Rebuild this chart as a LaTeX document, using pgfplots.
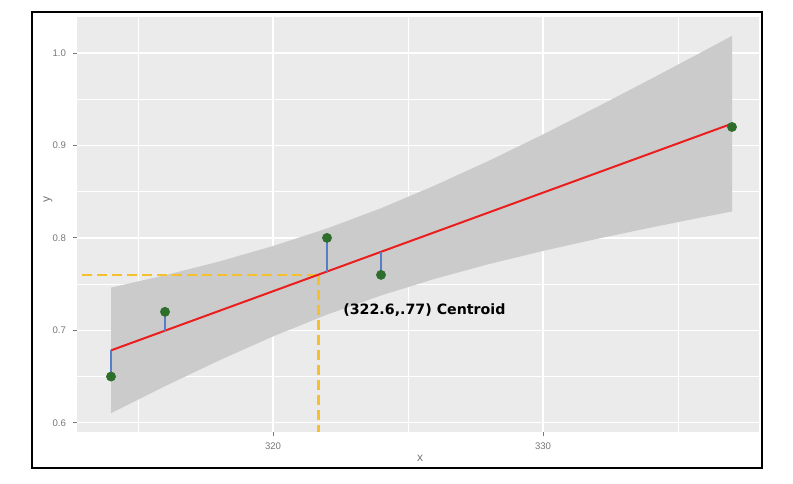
\documentclass[border=0pt]{standalone}
\usepackage{pgfplots}
\pgfplotsset{compat=1.18}
\usepackage{fontspec}
\setmainfont{Liberation Sans}
\newfontfamily\lblfont{DejaVu Sans}
\definecolor{panel}{RGB}{235,235,235}
\definecolor{band}{RGB}{203,203,203}
\definecolor{dkgreen}{RGB}{45,110,45}
\definecolor{resid}{RGB}{85,125,200}
\definecolor{fitred}{RGB}{235,30,30}
\definecolor{cgold}{RGB}{245,192,45}
\definecolor{ticktext}{RGB}{120,120,120}
\begin{document}
\begin{tikzpicture}[x=0.5pt,y=0.5pt]
\fill[white] (0,0) rectangle (793,483);
\begin{axis}[
  at={(38.5pt,25.5pt)}, anchor=south west,
  scale only axis, width=341pt, height=207.5pt,
  xmin=312.74, xmax=338.0, ymin=0.590, ymax=1.039,
  axis background/.style={fill=panel},
  axis line style={draw=none},
  xtick={320,330}, xticklabels={320,330},
  minor xtick={315,325,335},
  ytick={0.6,0.7,0.8,0.9,1.0}, yticklabels={0.6,0.7,0.8,0.9,1.0},
  minor ytick={0.65,0.75,0.85,0.95},
  grid=both,
  major grid style={white, line width=0.7pt},
  minor grid style={white, line width=0.35pt},
  tick align=outside, major tick length=2pt, minor tick length=0pt,
  xtick pos=bottom, ytick pos=left,
  tick style={ticktext, line width=0.5pt},
  ticklabel style={font=\fontsize{4.8}{5.5}\selectfont, text=ticktext},
  xticklabel style={yshift=0.3pt},
  clip=false,
]
% confidence band
\addplot[fill=band, draw=none] coordinates {
  (314,0.7462) (316,0.7596) (318,0.7744) (320,0.7912) (322,0.8102)
  (324,0.8321) (326,0.8568) (328,0.8835) (330,0.9119) (332,0.9416)
  (334,0.9720) (336,1.0029) (337,1.0186)
  (337,0.8286) (336,0.8229) (334,0.8112) (332,0.7990) (330,0.7859)
  (328,0.7717) (326,0.7558) (324,0.7377) (322,0.7170) (320,0.6934)
  (318,0.6674) (316,0.6396) (314,0.6104)
} -- cycle;
% centroid guides
\addplot[cgold, line width=1.2pt, dash pattern=on 5pt off 2.5pt] coordinates {(312.93,0.76) (321.68,0.76)};
\addplot[cgold, line width=1.2pt, dash pattern=on 5pt off 2.5pt] coordinates {(321.68,0.76) (321.68,0.590)};
% fitted line
\addplot[fitred, line width=1pt] coordinates {(314,0.6783) (337,0.9236)};
% residuals
\addplot[resid, line width=1.1pt] coordinates {(314,0.65) (314,0.6783)};
\addplot[resid, line width=1.1pt] coordinates {(316,0.72) (316,0.6996)};
\addplot[resid, line width=1.1pt] coordinates {(322,0.80) (322,0.7636)};
\addplot[resid, line width=1.1pt] coordinates {(324,0.76) (324,0.7849)};
\addplot[resid, line width=1.1pt] coordinates {(337,0.92) (337,0.9236)};
% points
\addplot[only marks, mark=*, mark size=2.25pt, mark options={fill=dkgreen, draw=dkgreen}] coordinates {
  (314,0.65) (316,0.72) (322,0.80) (324,0.76) (337,0.92)
};
\node[anchor=west, font=\lblfont\bfseries\fontsize{7.1}{8}\selectfont, inner sep=0pt] at (axis cs:322.59,0.7223) {(322.6,.77) Centroid};
\end{axis}
\node[text=ticktext, font=\fontsize{6}{7}\selectfont] at (420,25) {x};
\node[text=ticktext, font=\fontsize{6}{7}\selectfont, rotate=90] at (48,283) {y};
\draw[black, line width=1.2pt] (32,15) rectangle (762,471);
\end{tikzpicture}
\end{document}
